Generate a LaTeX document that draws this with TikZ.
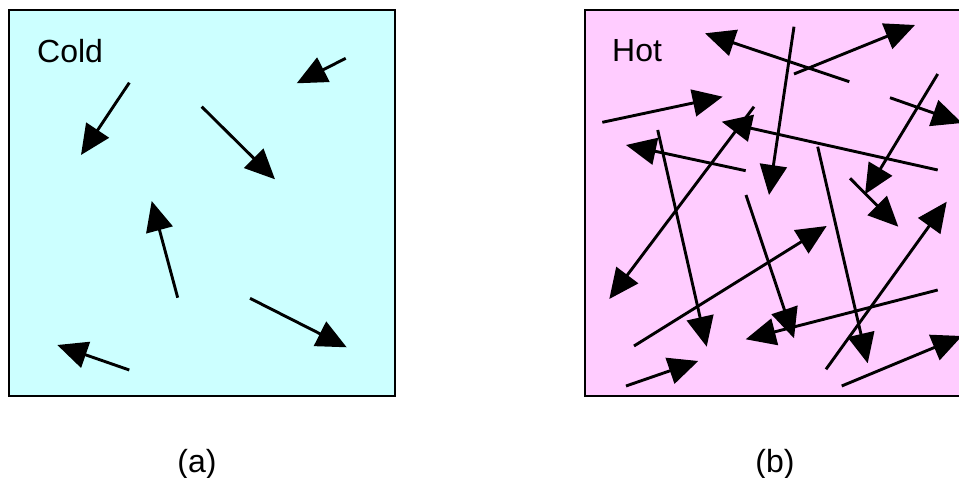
\documentclass[tikz,border=0pt]{standalone}
\usepackage{fontspec}
\setmainfont{Liberation Sans}
\usetikzlibrary{arrows.meta}
\definecolor{coldfill}{HTML}{CCFFFF}
\definecolor{hotfill}{HTML}{FFCCFF}
\begin{document}
\begin{tikzpicture}[x=1pt,y=-1pt,>={Triangle[length=30pt,width=27pt]},
   panel/.style={draw,line width=2.6pt},
   particle/.style={->,line width=2.9pt},
   label/.style={font=\fontsize{32}{38}\selectfont,inner sep=0pt}]
  \useasboundingbox (0,0) rectangle (959,478);
  % cold box
  \draw[panel,fill=coldfill] (9,10) rectangle (395,396);
  \node[label,anchor=base west] (cold) at (37,63) {Cold};
  \foreach \a/\b in {{(345.7,58.3)}/{(296.7,83.3)}, {(129.3,82.7)}/{(81,155)},
      {(201.7,106.7)}/{(275,179.3)}, {(177.7,297.7)}/{(151.7,201)},
      {(250,298.3)}/{(346.7,347.3)}, {(129.3,370)}/{(57.3,345)}}
    \draw[particle] \a -- \b;
  % hot box
  \draw[panel,fill=hotfill] (585,10) rectangle (966,396);
  \node[label,anchor=base west] (hot) at (612,62) {Hot};
  \foreach \a/\b in {{(849.3,81.7)}/{(705,33.3)}, {(794,26.7)}/{(769,195)},
      {(794,74)}/{(915,25)}, {(602.3,122.3)}/{(722.7,96.7)},
      {(890,97.7)}/{(962,123)}, {(937.7,74)}/{(865,194.3)},
      {(754,106.7)}/{(609.3,299)}, {(937.7,170)}/{(721.7,121.7)},
      {(745.7,170.7)}/{(626,145)}, {(657.7,130)}/{(706.7,346.7)},
      {(746,195)}/{(794,338.3)}, {(817.7,146.7)}/{(867.7,363.3)},
      {(850,178.3)}/{(898.3,226.7)}, {(937.7,290)}/{(745.7,339.3)},
      {(634,346)}/{(826.7,226)}, {(826,369.3)}/{(946.7,201.7)},
      {(626,386)}/{(698.3,361)}, {(841.7,386)}/{(962,336)}}
    \draw[particle] \a -- \b;
  % captions
  \node[label,anchor=base] (capa) at (197,472) {(a)};
  \node[label,anchor=base] (capb) at (775,472) {(b)};
\end{tikzpicture}
\end{document}
